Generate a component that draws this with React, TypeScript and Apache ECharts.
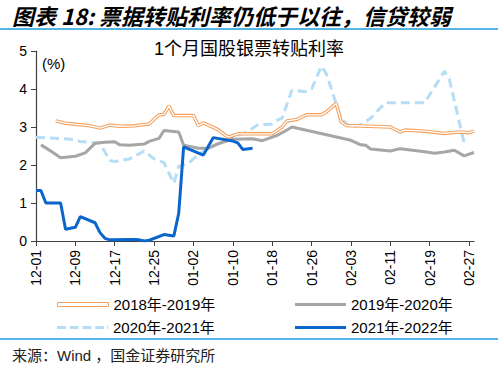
import React, { useEffect, useRef } from 'react';
import * as echarts from 'echarts';

const monthSpans: [string, number][] = [['12', 31], ['01', 31], ['02', 28]];
const categories: string[] = monthSpans.flatMap(([m, n]) =>
  Array.from({ length: n }, (_, i) => `${m}-${String(i + 1).padStart(2, '0')}`)
);

const seriesNames = ['2018年-2019年', '2019年-2020年', '2020年-2021年', '2021年-2022年'];

const dates1819 = ['12-05','12-07','12-12','12-14','12-16','12-18','12-21','12-24','12-26','12-27','12-28','12-29','01-02','01-03','01-04','01-07','01-09','01-11','01-18','01-20','01-21','01-23','01-25','01-28','01-29','01-31','02-01','02-02','02-11','02-13','02-14','02-18','02-22','02-25','02-27','02-28'];
const values1819 = [3.16,3.10,3.03,2.97,3.05,3.02,3.03,3.08,3.32,3.33,3.55,3.30,3.30,3.03,3.11,2.93,2.73,2.82,2.82,3.00,3.16,3.20,3.32,3.32,3.40,3.62,3.14,3.04,3.00,2.87,2.92,2.89,2.83,2.87,2.85,2.89];

const dates1920 = ['12-02','12-04','12-06','12-09','12-11','12-13','12-15','12-17','12-18','12-20','12-23','12-24','12-26','12-27','12-30','12-31','01-03','01-05','01-07','01-10','01-14','01-16','01-19','01-21','01-22','02-03','02-05','02-06','02-07','02-11','02-13','02-18','02-20','02-22','02-24','02-26','02-28'];
const values1920 = [2.53,2.37,2.19,2.23,2.32,2.57,2.60,2.61,2.53,2.52,2.55,2.62,2.70,2.91,2.87,2.52,2.44,2.44,2.56,2.68,2.69,2.64,2.78,2.92,3.00,2.65,2.53,2.52,2.42,2.37,2.43,2.35,2.31,2.34,2.39,2.24,2.33];

const dates2021 = ['12-01','12-08','12-10','12-14','12-16','12-17','12-20','12-23','12-25','12-27','12-29','12-30','01-01','01-03','01-06','01-10','01-13','01-15','01-18','01-19','01-20','01-22','01-25','01-26','01-28','01-29','02-01','02-03','02-05','02-07','02-10','02-18','02-19','02-22','02-23','02-26'];
const values2021 = [2.73,2.68,2.62,2.57,2.12,2.09,2.16,2.37,2.16,2.06,1.52,1.96,2.05,2.28,2.50,2.72,2.88,3.05,3.08,3.18,3.23,3.97,3.93,4.00,4.60,4.40,3.22,2.98,3.06,3.23,3.64,3.64,3.85,4.47,4.25,2.58];

const dates2122 = ['12-01','12-02','12-03','12-06','12-07','12-09','12-10','12-13','12-14','12-15','12-16','12-17','12-20','12-21','12-22','12-23','12-24','12-27','12-29','12-30','12-31','01-04','01-06','01-10','01-11','01-12','01-14'];
const values2122 = [1.33,1.33,1.00,1.00,0.31,0.36,0.64,0.48,0.22,0.07,0.03,0.03,0.04,0.04,0.03,0.00,0.02,0.17,0.13,0.73,2.48,2.26,2.72,2.63,2.58,2.41,2.44];

const yTicks = [0, 1, 2, 3, 4, 5];

const pair = (d: string[], v: number[]) => d.map((x, i) => [x, v[i]]);

const FONT = '"Liberation Sans", "Noto Sans CJK SC", sans-serif';
const ORANGE = '#F4A15F';
const GRAY = '#A6A6A6';
const LIGHT = '#B5DDF6';
const BLUE = '#0A66CC';

export default function App() {
  const ref = useRef<HTMLDivElement>(null);
  useEffect(() => {
    if (!ref.current) return;
    const chart = echarts.init(ref.current, null, { renderer: 'svg' });
    const dashPath = 'path://M0 0h9v3h-9z M13 0h9v3h-9z M26 0h9v3h-9z M39 0h9v3h-9z M51 0h1v3h-1z';
    const legendBase = {
      itemWidth: 51,
      itemHeight: 4,
      itemGap: 5,
      textStyle: { fontSize: 15, color: '#000', fontFamily: FONT },
      selectedMode: false,
    };
    chart.setOption({
      animation: false,
      backgroundColor: '#fff',
      title: {
        text: '1个月国股银票转贴利率',
        left: 'center',
        top: 35,
        textStyle: { fontSize: 18, fontWeight: 'normal', color: '#000', fontFamily: FONT },
      },
      graphic: [
        {
          type: 'text',
          x: 12,
          y: 15,
          style: {
            text: '图表 18: 票据转贴利率仍低于以往，信贷较弱',
            font: 'italic bold 22px "Noto Sans CJK SC", "Liberation Sans", sans-serif',
            fill: '#000',
            verticalAlign: 'middle',
          },
        },
        { type: 'line', shape: { x1: 0, y1: 29, x2: 498, y2: 29 }, style: { stroke: '#1E9BD8', lineWidth: 1.5 } },
        { type: 'line', shape: { x1: 0, y1: 339, x2: 498, y2: 339 }, style: { stroke: '#1E9BD8', lineWidth: 1.5 } },
        {
          type: 'text',
          left: 42,
          top: 56,
          style: { text: '(%)', font: `15px ${FONT}`, fill: '#000' },
        },
        {
          type: 'text',
          x: 12,
          y: 355,
          style: { text: '来源：Wind ，国金证券研究所', font: `15px ${FONT}`, fill: '#222', verticalAlign: 'middle' },
        },
      ],
      legend: [
        { ...legendBase, left: 52, top: 292, data: [{ name: seriesNames[0], icon: 'rect', itemStyle: { color: '#fff', borderColor: ORANGE, borderWidth: 1 } }] },
        { ...legendBase, left: 290, top: 292, itemHeight: 3, data: [{ name: seriesNames[1], icon: 'rect', itemStyle: { color: GRAY } }] },
        { ...legendBase, left: 52, top: 315, itemHeight: 3, data: [{ name: seriesNames[2], icon: dashPath, itemStyle: { color: LIGHT } }] },
        { ...legendBase, left: 290, top: 315, itemHeight: 3, data: [{ name: seriesNames[3], icon: 'rect', itemStyle: { color: BLUE } }] },
      ],
      grid: { left: 36, right: 24, top: 51, bottom: 131, containLabel: false },
      xAxis: {
        type: 'category',
        data: categories,
        boundaryGap: false,
        axisLine: { lineStyle: { color: '#404040', width: 1.2 } },
        axisTick: { interval: 7, length: 5, lineStyle: { color: '#404040' } },
        axisLabel: {
          interval: 7,
          rotate: 90,
          margin: 9,
          fontSize: 14,
          color: '#000',
          fontFamily: FONT,
        },
        splitLine: { show: false },
      },
      yAxis: {
        type: 'value',
        min: yTicks[0],
        max: yTicks[yTicks.length - 1],
        interval: 1,
        axisLine: { show: true, lineStyle: { color: '#404040', width: 1.2 } },
        axisTick: { show: true, length: 5, lineStyle: { color: '#404040' } },
        axisLabel: { fontSize: 14, color: '#000', fontFamily: FONT, margin: 9 },
        splitLine: { show: false },
      },
      series: [
        {
          name: seriesNames[2],
          type: 'line',
          data: pair(dates2021, values2021),
          symbol: 'none',
          lineStyle: { color: LIGHT, width: 3, type: [9, 5] },
          itemStyle: { color: LIGHT },
          z: 2,
        },
        {
          name: seriesNames[0],
          type: 'line',
          data: pair(dates1819, values1819),
          symbol: 'none',
          lineStyle: { color: ORANGE, width: 3.5 },
          itemStyle: { color: ORANGE },
          z: 3,
        },
        {
          name: 'orange-inner',
          type: 'line',
          data: pair(dates1819, values1819),
          symbol: 'none',
          silent: true,
          lineStyle: { color: '#fff', width: 1.3 },
          z: 4,
        },
        {
          name: seriesNames[1],
          type: 'line',
          data: pair(dates1920, values1920),
          symbol: 'none',
          lineStyle: { color: GRAY, width: 3 },
          itemStyle: { color: GRAY },
          z: 5,
        },
        {
          name: seriesNames[3],
          type: 'line',
          data: pair(dates2122, values2122),
          symbol: 'none',
          lineStyle: { color: BLUE, width: 3 },
          itemStyle: { color: BLUE },
          z: 6,
        },
      ],
    });
    return () => chart.dispose();
  }, []);
  return <div ref={ref} style={{ position: 'fixed', left: 0, top: 0, width: 498, height: 372 }} />;
}
